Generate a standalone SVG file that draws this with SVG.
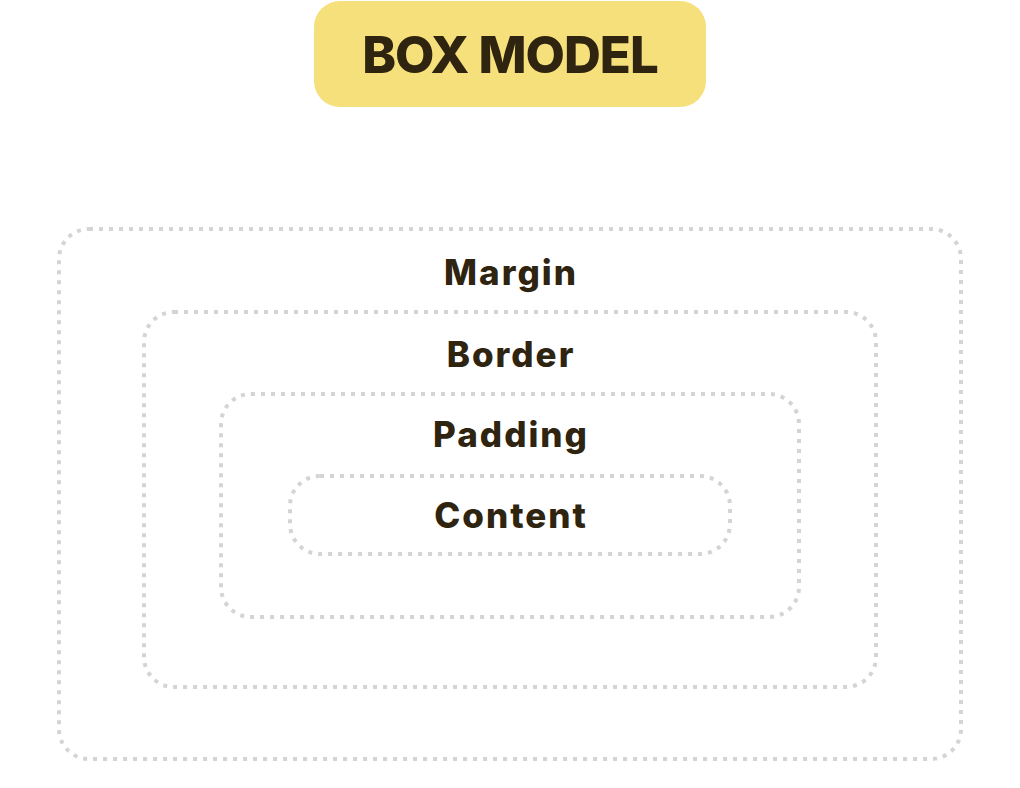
<svg xmlns="http://www.w3.org/2000/svg" width="1020" height="788" viewBox="0 0 1020 788">
<style>
.box{fill:none;stroke:#d4d4d4;stroke-width:4;stroke-dasharray:4 6}
.lbl{font-family:Inter,"Open Sans","Liberation Sans",sans-serif;font-weight:800;font-size:35px;letter-spacing:2px;fill:#2e2410;text-anchor:middle}
.ttl{font-family:Inter,"Open Sans","Liberation Sans",sans-serif;font-weight:800;font-size:51px;letter-spacing:-1px;fill:#2e2410;text-anchor:middle}
</style>
<rect width="1020" height="788" fill="#ffffff"/>
<g id="title">
<rect x="314" y="1" width="392" height="106" rx="26" fill="#f6e07b"/>
<text class="ttl" x="510" y="73">BOX MODEL</text>
</g>
<g id="margin">
<rect class="box" x="59" y="229" width="902" height="530" rx="30"/>
<text class="lbl" x="511" y="285">Margin</text>
</g>
<g id="border">
<rect class="box" x="144" y="312" width="732" height="375" rx="30"/>
<text class="lbl" x="511" y="367">Border</text>
</g>
<g id="padding">
<rect class="box" x="221" y="394" width="578" height="223" rx="30"/>
<text class="lbl" x="511" y="447">Padding</text>
</g>
<g id="content">
<rect class="box" x="290" y="476" width="440" height="78" rx="30"/>
<text class="lbl" x="511" y="528">Content</text>
</g>
<g id="connectors"/>
</svg>
